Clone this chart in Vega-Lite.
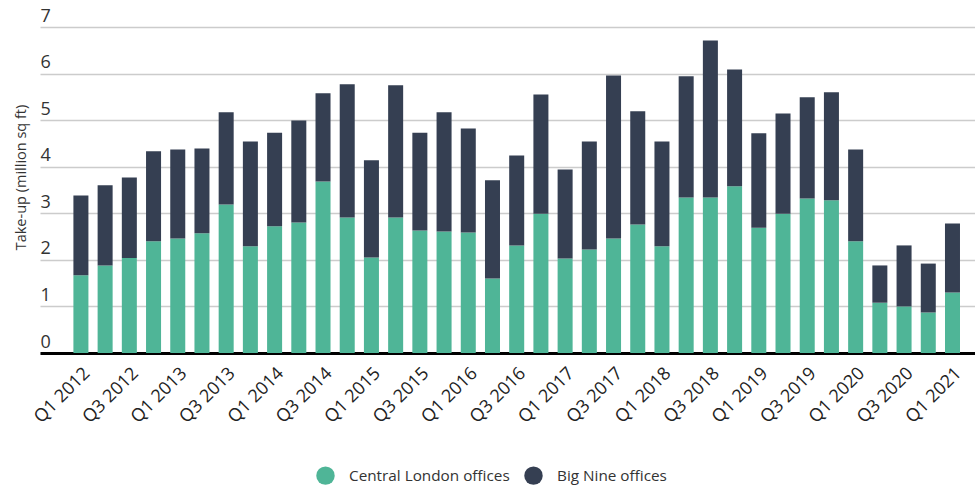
{
  "$schema": "https://vega.github.io/schema/vega-lite/v6.json",
  "autosize": {"type": "none"},
  "width": 935,
  "height": 326,
  "padding": {"left": 40, "top": 27, "right": 0, "bottom": 136},
  "background": "#ffffff",
  "config": {
    "font": "Open Sans",
    "view": {"stroke": null}
  },
  "data": {
    "values": [
      {"q": "Q1 2012", "Central London offices": 1.67, "Big Nine offices": 1.71},
      {"q": "Q2 2012", "Central London offices": 1.88, "Big Nine offices": 1.72},
      {"q": "Q3 2012", "Central London offices": 2.04, "Big Nine offices": 1.73},
      {"q": "Q4 2012", "Central London offices": 2.40, "Big Nine offices": 1.93},
      {"q": "Q1 2013", "Central London offices": 2.46, "Big Nine offices": 1.91},
      {"q": "Q2 2013", "Central London offices": 2.57, "Big Nine offices": 1.82},
      {"q": "Q3 2013", "Central London offices": 3.19, "Big Nine offices": 1.98},
      {"q": "Q4 2013", "Central London offices": 2.29, "Big Nine offices": 2.25},
      {"q": "Q1 2014", "Central London offices": 2.72, "Big Nine offices": 2.01},
      {"q": "Q2 2014", "Central London offices": 2.80, "Big Nine offices": 2.19},
      {"q": "Q3 2014", "Central London offices": 3.68, "Big Nine offices": 1.90},
      {"q": "Q4 2014", "Central London offices": 2.91, "Big Nine offices": 2.86},
      {"q": "Q1 2015", "Central London offices": 2.05, "Big Nine offices": 2.09},
      {"q": "Q2 2015", "Central London offices": 2.91, "Big Nine offices": 2.84},
      {"q": "Q3 2015", "Central London offices": 2.63, "Big Nine offices": 2.10},
      {"q": "Q4 2015", "Central London offices": 2.61, "Big Nine offices": 2.56},
      {"q": "Q1 2016", "Central London offices": 2.59, "Big Nine offices": 2.23},
      {"q": "Q2 2016", "Central London offices": 1.60, "Big Nine offices": 2.11},
      {"q": "Q3 2016", "Central London offices": 2.31, "Big Nine offices": 1.93},
      {"q": "Q4 2016", "Central London offices": 2.99, "Big Nine offices": 2.56},
      {"q": "Q1 2017", "Central London offices": 2.03, "Big Nine offices": 1.91},
      {"q": "Q2 2017", "Central London offices": 2.22, "Big Nine offices": 2.32},
      {"q": "Q3 2017", "Central London offices": 2.46, "Big Nine offices": 3.50},
      {"q": "Q4 2017", "Central London offices": 2.76, "Big Nine offices": 2.43},
      {"q": "Q1 2018", "Central London offices": 2.29, "Big Nine offices": 2.25},
      {"q": "Q2 2018", "Central London offices": 3.34, "Big Nine offices": 2.60},
      {"q": "Q3 2018", "Central London offices": 3.34, "Big Nine offices": 3.37},
      {"q": "Q4 2018", "Central London offices": 3.58, "Big Nine offices": 2.51},
      {"q": "Q1 2019", "Central London offices": 2.69, "Big Nine offices": 2.03},
      {"q": "Q2 2019", "Central London offices": 2.99, "Big Nine offices": 2.15},
      {"q": "Q3 2019", "Central London offices": 3.32, "Big Nine offices": 2.17},
      {"q": "Q4 2019", "Central London offices": 3.28, "Big Nine offices": 2.32},
      {"q": "Q1 2020", "Central London offices": 2.40, "Big Nine offices": 1.97},
      {"q": "Q2 2020", "Central London offices": 1.08, "Big Nine offices": 0.80},
      {"q": "Q3 2020", "Central London offices": 1.00, "Big Nine offices": 1.31},
      {"q": "Q4 2020", "Central London offices": 0.87, "Big Nine offices": 1.05},
      {"q": "Q1 2021", "Central London offices": 1.30, "Big Nine offices": 1.48}
    ]
  },
  "transform": [
    {"fold": ["Central London offices", "Big Nine offices"], "as": ["series", "value"]}
  ],
  "mark": {"type": "bar", "stroke": null},
  "encoding": {
    "x": {
      "field": "q",
      "type": "ordinal",
      "sort": null,
      "scale": {"paddingInner": 0.38, "paddingOuter": 1.05, "align": 0.69},
      "axis": {
        "title": null,
        "values": ["Q1 2012", "Q3 2012", "Q1 2013", "Q3 2013", "Q1 2014", "Q3 2014", "Q1 2015", "Q3 2015", "Q1 2016", "Q3 2016", "Q1 2017", "Q3 2017", "Q1 2018", "Q3 2018", "Q1 2019", "Q3 2019", "Q1 2020", "Q3 2020", "Q1 2021"],
        "labelAngle": -45,
        "labelAlign": "right",
        "labelBaseline": "top",
        "labelPadding": 11,
        "labelFontSize": 18,
        "labelColor": "#222222",
        "labelFont": "Open Sans",
        "labelBound": false,
        "labelOverlap": false,
        "labelLimit": 300,
        "ticks": false,
        "grid": false,
        "domain": true,
        "domainColor": "#000000",
        "domainWidth": 3
      }
    },
    "y": {
      "field": "value",
      "type": "quantitative",
      "stack": "zero",
      "scale": {"domain": [0, 7], "nice": false},
      "axis": {
        "title": "Take-up (million sq ft)",
        "titleFontSize": 14.5,
        "titleFontWeight": "normal",
        "titleColor": "#333333",
        "titleFont": "Open Sans",
        "titleAngle": -90,
        "titleX": -19,
        "titleY": 150,
        "titleAlign": "center",
        "titleBaseline": "middle",
        "values": [0, 1, 2, 3, 4, 5, 6, 7],
        "domain": false,
        "ticks": false,
        "tickSize": 0,
        "labelAlign": "left",
        "labelBaseline": "alphabetic",
        "labelPadding": 0,
        "labelOffset": -6,
        "labelFontSize": 18,
        "labelColor": "#333333",
        "labelFont": "Open Sans",
        "grid": true,
        "gridColor": "#cccccc",
        "gridWidth": 1.5
      }
    },
    "color": {
      "field": "series",
      "type": "nominal",
      "scale": {
        "domain": ["Central London offices", "Big Nine offices"],
        "range": ["#4fb597", "#353f52"]
      },
      "legend": {
        "title": null,
        "orient": "none",
        "legendX": 276,
        "legendY": 439,
        "direction": "horizontal",
        "symbolType": "circle",
        "symbolSize": 340,
        "symbolStrokeWidth": 0,
        "labelFontSize": 15.3,
        "labelLimit": 400,
        "labelColor": "#333333",
        "labelFont": "Open Sans",
        "labelOffset": 14,
        "columnPadding": 14
      }
    },
    "order": {"field": "series", "sort": "descending"}
  }
}
